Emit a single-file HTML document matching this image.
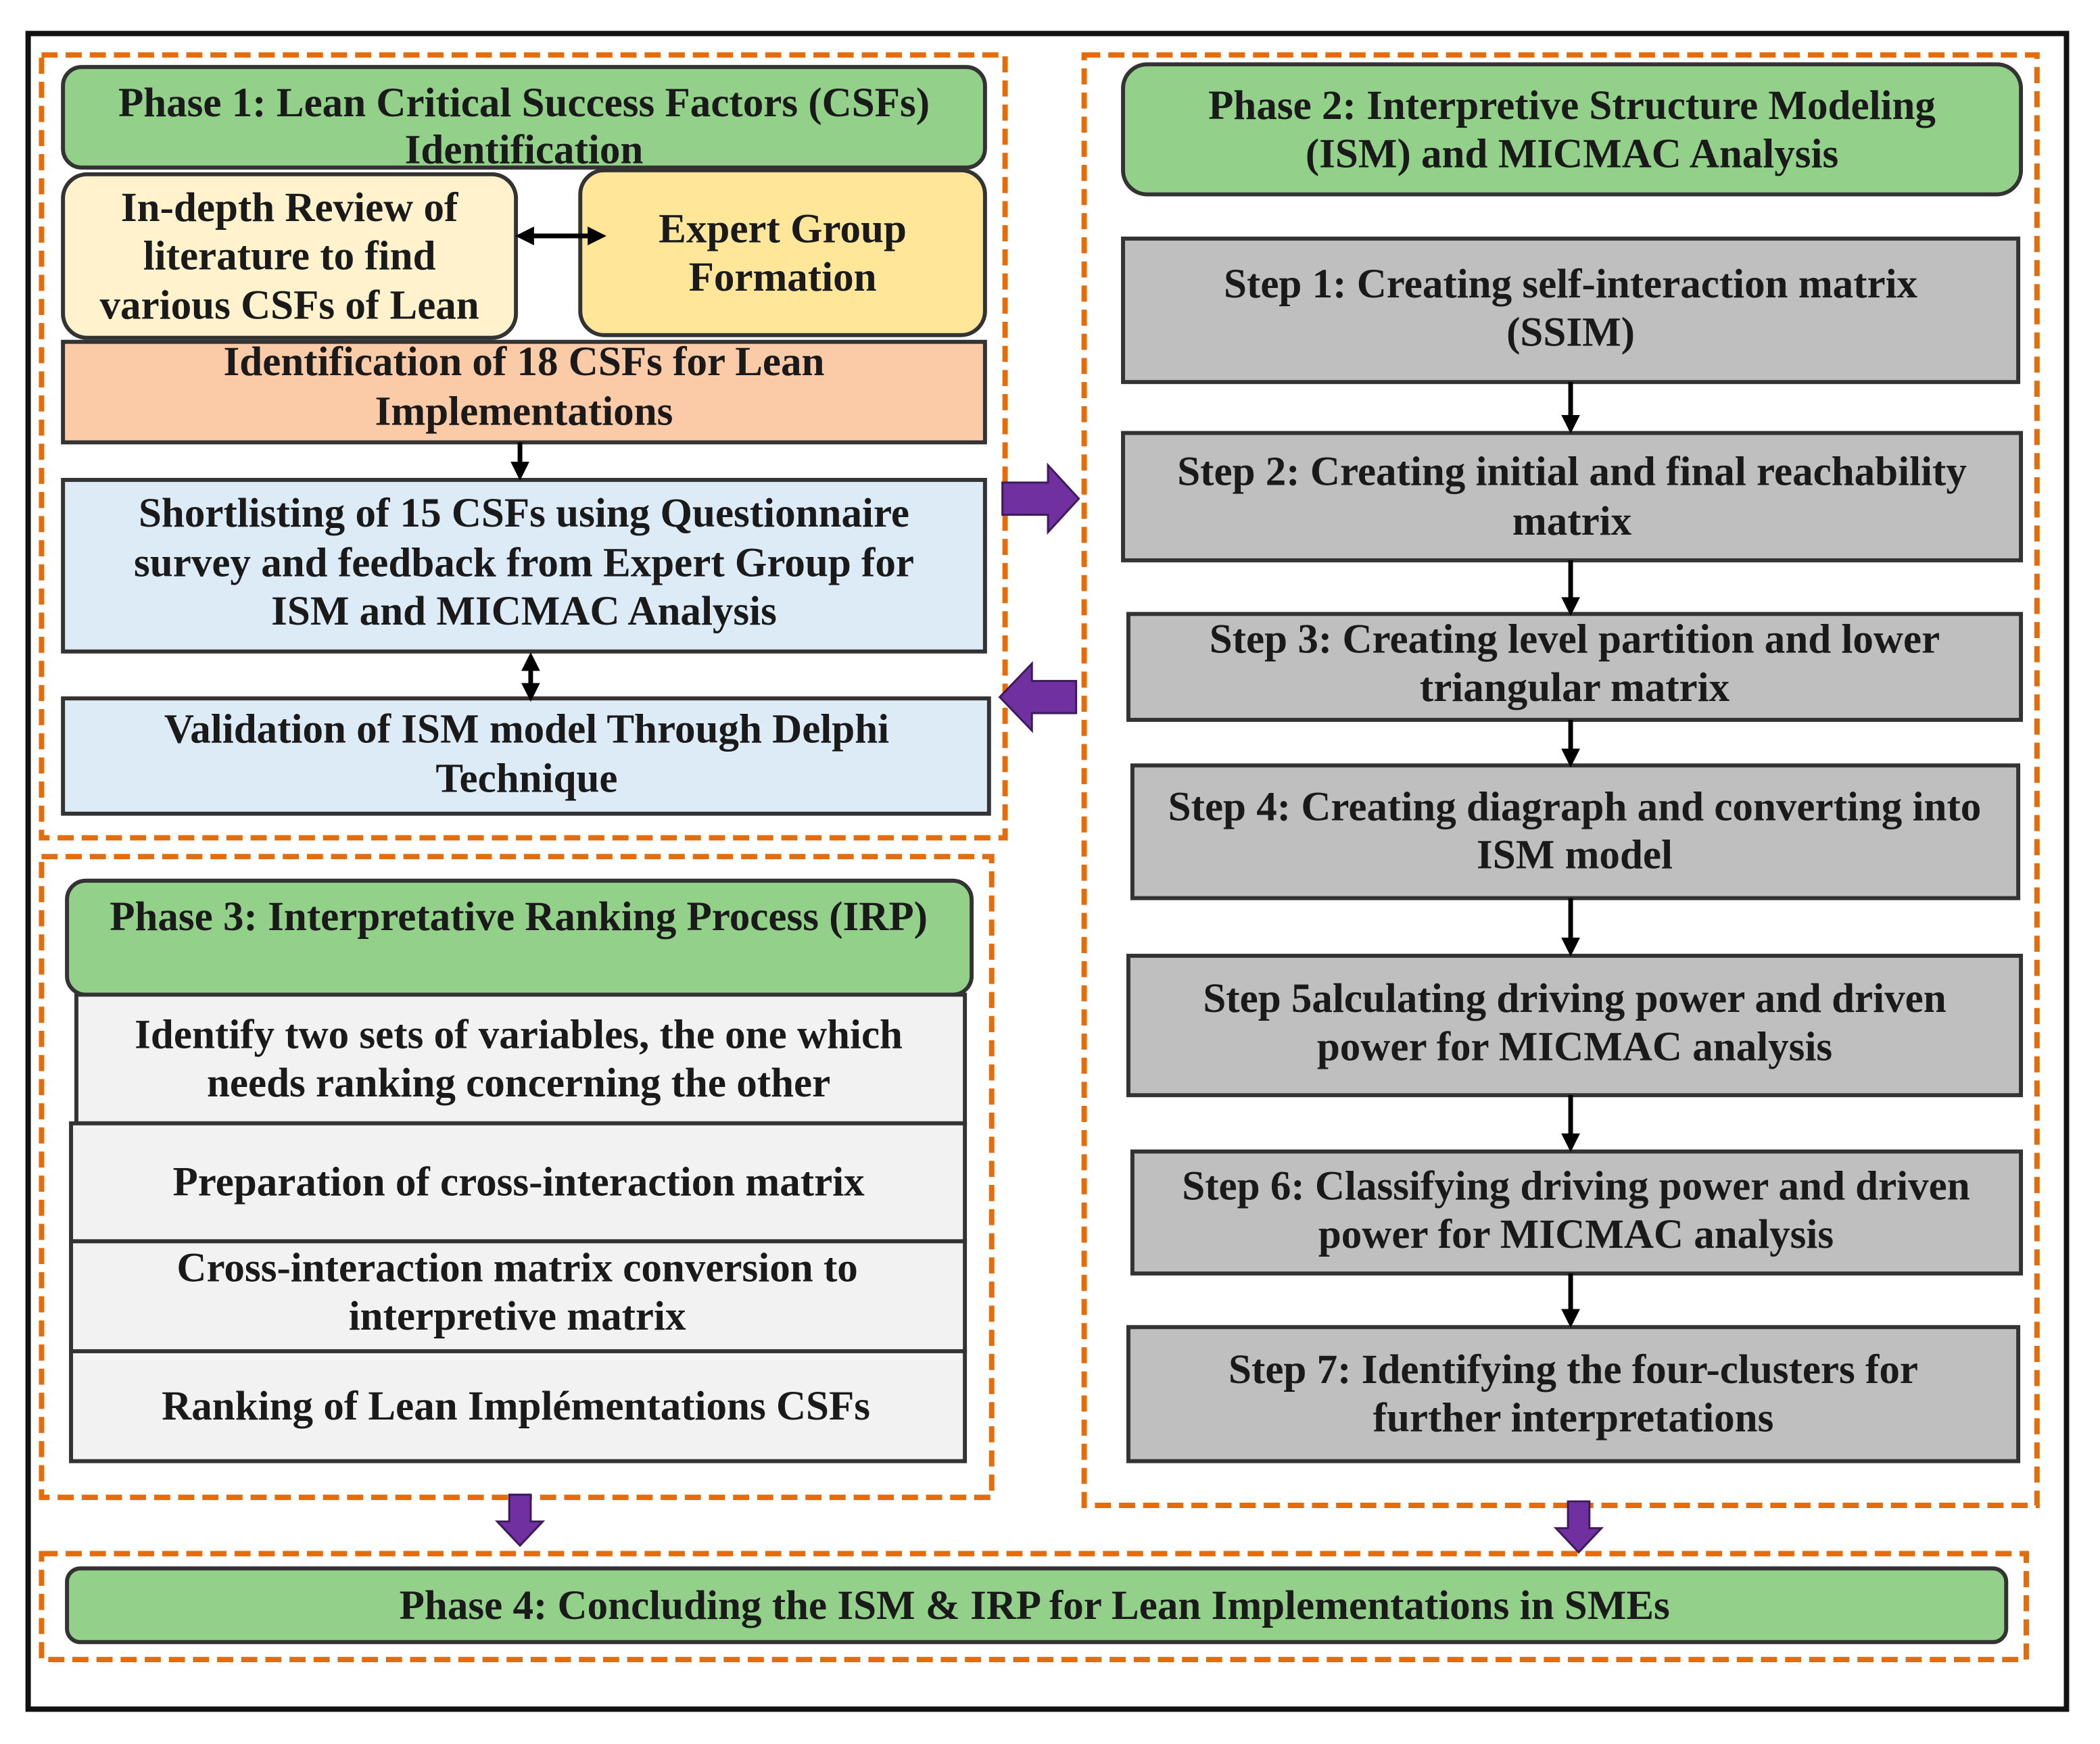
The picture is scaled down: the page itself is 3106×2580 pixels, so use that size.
<!DOCTYPE html>
<html><head><meta charset="utf-8"><style>
html,body{margin:0;padding:0;background:#fff;}
svg{display:block;}
text{font-family:"Liberation Serif",serif;font-weight:bold;font-size:30.8px;fill:#1a1a1a;text-anchor:middle;dominant-baseline:central;}
</style></head><body>
<svg width="3106" height="2580" viewBox="0 0 1567 1301" preserveAspectRatio="none" xmlns="http://www.w3.org/2000/svg">
<defs>
<marker id="ah" markerWidth="4" markerHeight="4" refX="3" refY="2" orient="auto" markerUnits="strokeWidth"><path d="M0,0 L4,2 L0,4 Z" fill="#000"/></marker>
<marker id="as" markerWidth="4" markerHeight="4" refX="1" refY="2" orient="auto" markerUnits="strokeWidth"><path d="M4,0 L0,2 L4,4 Z" fill="#000"/></marker>
</defs>
<rect x="0" y="0" width="1567" height="1301" fill="#fff"/>
<rect x="21" y="25" width="1521" height="1250" fill="none" stroke="#111" stroke-width="4"/>
<g fill="none" stroke="#e46c0a" stroke-width="4" stroke-dasharray="12,6">
<rect x="31" y="41" width="719" height="584"/>
<rect x="809" y="41" width="711" height="1082"/>
<rect x="31" y="639" width="709" height="478"/>
<rect x="31" y="1159" width="1481" height="79"/>
</g>
<g stroke="#333" stroke-width="3">
<rect x="47" y="50" width="688" height="75" rx="14" fill="#93d08a"/>
<rect x="47" y="130" width="338" height="122" rx="18" fill="#fff2cc"/>
<rect x="433" y="127" width="302" height="123" rx="18" fill="#ffe699"/>
<rect x="47" y="255" width="688" height="75" fill="#fbcaa6"/>
<rect x="47" y="358" width="688" height="128" fill="#ddebf7"/>
<rect x="47" y="521" width="691" height="86" fill="#ddebf7"/>
<rect x="838" y="48" width="670" height="97" rx="18" fill="#93d08a"/>
<rect x="838" y="178" width="668" height="107" fill="#bfbfbf"/>
<rect x="838" y="323" width="670" height="95" fill="#bfbfbf"/>
<rect x="842" y="458" width="666" height="79" fill="#bfbfbf"/>
<rect x="845" y="571" width="661" height="99" fill="#bfbfbf"/>
<rect x="842" y="713" width="666" height="104" fill="#bfbfbf"/>
<rect x="845" y="859" width="663" height="91" fill="#bfbfbf"/>
<rect x="842" y="990" width="664" height="100" fill="#bfbfbf"/>
<rect x="50" y="657" width="675" height="85" rx="14" fill="#93d08a"/>
<rect x="57" y="742" width="663" height="96" fill="#f2f2f2"/>
<rect x="53" y="838" width="667" height="88" fill="#f2f2f2"/>
<rect x="53" y="926" width="667" height="82" fill="#f2f2f2"/>
<rect x="53" y="1008" width="667" height="82" fill="#f2f2f2"/>
<rect x="50" y="1170" width="1447" height="55" rx="10" fill="#93d08a"/>
</g>
<g stroke="#000" stroke-width="3.5" fill="none">
<line x1="388" y1="176" x2="449" y2="176" marker-end="url(#ah)" marker-start="url(#as)"/>
<line x1="388" y1="330" x2="388" y2="355" marker-end="url(#ah)"/>
<line x1="396" y1="490" x2="396" y2="520" marker-end="url(#ah)" marker-start="url(#as)"/>
<line x1="1172" y1="285" x2="1172" y2="320" marker-end="url(#ah)"/>
<line x1="1172" y1="418" x2="1172" y2="456" marker-end="url(#ah)"/>
<line x1="1172" y1="537" x2="1172" y2="569" marker-end="url(#ah)"/>
<line x1="1172" y1="670" x2="1172" y2="710" marker-end="url(#ah)"/>
<line x1="1172" y1="817" x2="1172" y2="856" marker-end="url(#ah)"/>
<line x1="1172" y1="950" x2="1172" y2="987" marker-end="url(#ah)"/>
</g>
<g fill="#7030a0" stroke="#3d1a5c" stroke-width="1.5">
<path d="M748,360 L782,360 L782,347 L805,372 L782,397 L782,384 L748,384 Z"/>
<path d="M803,508 L770,508 L770,495 L746,520 L770,545 L770,532 L803,532 Z"/>
<path d="M380,1115 L396,1115 L396,1135 L405,1135 L388,1153 L371,1135 L380,1135 Z"/>
<path d="M1170,1120 L1186,1120 L1186,1140 L1195,1140 L1178,1158 L1161,1140 L1170,1140 Z"/>
</g>
<text x="391" y="77">Phase 1: Lean Critical Success Factors (CSFs)</text>
<text x="391" y="112">Identification</text>
<text x="216" y="155">In-depth Review of</text>
<text x="216" y="191">literature to find</text>
<text x="216" y="228">various CSFs of Lean</text>
<text x="584" y="171">Expert Group</text>
<text x="584" y="207">Formation</text>
<text x="391" y="270">Identification of  18 CSFs for Lean</text>
<text x="391" y="307">Implementations</text>
<text x="391" y="383">Shortlisting of 15 CSFs using Questionnaire</text>
<text x="391" y="420">survey and feedback from Expert Group for</text>
<text x="391" y="456">ISM and  MICMAC Analysis</text>
<text x="393" y="544">Validation of ISM model Through Delphi</text>
<text x="393" y="581">Technique</text>
<text x="1173" y="79">Phase 2: Interpretive Structure Modeling</text>
<text x="1173" y="115">(ISM) and MICMAC Analysis</text>
<text x="1172" y="212">Step 1: Creating self-interaction matrix</text>
<text x="1172" y="248">(SSIM)</text>
<text x="1173" y="352">Step 2: Creating initial and final reachability</text>
<text x="1173" y="389">matrix</text>
<text x="1175" y="477">Step 3: Creating  level partition and lower</text>
<text x="1175" y="513">triangular matrix</text>
<text x="1175" y="602">Step 4: Creating diagraph and converting into</text>
<text x="1175" y="638">ISM model</text>
<text x="1175" y="745">Step 5alculating driving power and driven</text>
<text x="1175" y="781">power for MICMAC analysis</text>
<text x="1176" y="885">Step 6: Classifying driving power and driven</text>
<text x="1176" y="921">power for MICMAC analysis</text>
<text x="1174" y="1022">Step 7: Identifying the four-clusters for</text>
<text x="1174" y="1058">further interpretations</text>
<text x="387" y="684">Phase 3: Interpretative Ranking Process (IRP)</text>
<text x="387" y="772">Identify two sets of variables, the one which</text>
<text x="387" y="808">needs ranking concerning the other</text>
<text x="387" y="882">Preparation of cross-interaction matrix</text>
<text x="386" y="946">Cross-interaction matrix conversion to</text>
<text x="386" y="982">interpretive matrix</text>
<text x="385" y="1049">Ranking of Lean Implémentations CSFs</text>
<text x="772" y="1198">Phase 4: Concluding the ISM &amp; IRP for Lean Implementations in SMEs</text>
</svg>
</body></html>
